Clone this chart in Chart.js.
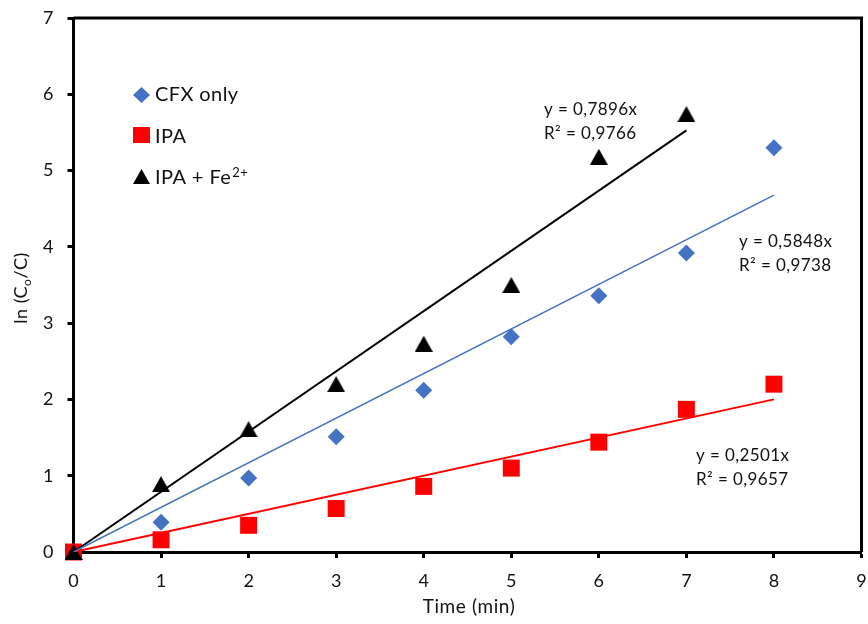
<!DOCTYPE html>
<html>
<head>
<meta charset="utf-8">
<script src="https://cdn.jsdelivr.net/npm/chart.js@4/dist/chart.umd.min.js"></script>
<style>
  html, body { margin: 0; padding: 0; background: #fff; }
  #wrap { width: 868px; height: 624px; }
</style>
</head>
<body>
<div id="wrap"><canvas id="chart" width="868" height="624"></canvas></div>
<script>
// values
const times = [0, 1, 2, 3, 4, 5, 6, 7, 8];
const cfxOnly = [0, 0.39, 0.97, 1.51, 2.12, 2.82, 3.36, 3.92, 5.30];
const ipa = [0, 0.16, 0.35, 0.57, 0.86, 1.10, 1.44, 1.87, 2.20];
const ipaFe = [0, 0.89, 1.61, 2.20, 2.73, 3.50, 5.18, 5.74];

// trendlines y = k*x (through origin), as shown on the chart
const slopes = [0.5848, 0.2501, 0.7896];
const trendEnds = [8, 8, 7];
const equations = [
    ['y = 0,5848x', 'R² = 0,9738'],
    ['y = 0,2501x', 'R² = 0,9657'],
    ['y = 0,7896x', 'R² = 0,9766']
];

const xTicks = [0, 1, 2, 3, 4, 5, 6, 7, 8, 9];
const yTicks = [0, 1, 2, 3, 4, 5, 6, 7];

const blue = '#4472C4';
const red = '#FF0000';
const black = '#000000';
const FONT = 'Lato, "Open Sans", sans-serif';

function pts(ys) {
    return ys.map((y, i) => ({ x: times[i], y: y }));
}
function trend(k, end) {
    return [{ x: 0, y: 0 }, { x: end, y: k * end }];
}

function diamond(ctx, x, y, rx, ry) {
    ctx.beginPath();
    ctx.moveTo(x, y - ry); ctx.lineTo(x + rx, y); ctx.lineTo(x, y + ry); ctx.lineTo(x - rx, y);
    ctx.closePath(); ctx.fill();
}
function triangle(ctx, x, y, w, h) {
    ctx.beginPath();
    ctx.moveTo(x, y - h / 2); ctx.lineTo(x + w / 2, y + h / 2); ctx.lineTo(x - w / 2, y + h / 2);
    ctx.closePath(); ctx.fill();
}

// triangle marker centred on its box (like Excel), not on its circumcentre
const triMarker = document.createElement('canvas');
triMarker.width = 18; triMarker.height = 16;
(function () {
    const c = triMarker.getContext('2d');
    c.fillStyle = black;
    triangle(c, 9, 8, 18, 16);
})();

const extras = {
    id: 'extras',
    afterDraw(chart) {
        const ctx = chart.ctx;
        const a = chart.chartArea;
        ctx.save();
        // frame top / right
        ctx.strokeStyle = '#000';
        ctx.lineWidth = 3;
        ctx.beginPath();
        ctx.moveTo(a.left, a.top); ctx.lineTo(a.right, a.top); ctx.lineTo(a.right, a.bottom);
        ctx.stroke();

        // legend
        ctx.textBaseline = 'alphabetic';
        ctx.textAlign = 'left';
        ctx.fillStyle = blue; diamond(ctx, 141.5, 95, 8.5, 8);
        ctx.fillStyle = red; ctx.fillRect(133, 127, 17, 16);
        ctx.fillStyle = black; triangle(ctx, 141.5, 176.5, 17, 15);
        ctx.fillStyle = '#111';
        ctx.font = '20px ' + FONT;
        ctx.letterSpacing = '0.4px';
        ctx.fillText('CFX only', 155, 101);
        ctx.fillText('IPA', 155, 143);
        ctx.fillText('IPA + Fe', 155, 184);
        const w = ctx.measureText('IPA + Fe').width;
        ctx.font = '13px ' + FONT;
        ctx.fillText('2+', 155 + w + 1, 177);

        // equations
        ctx.font = '17px ' + FONT;
        ctx.letterSpacing = '0.4px';
        const eqPos = [[739, 247], [696, 461], [544, 115]];
        equations.forEach((e, i) => {
            ctx.fillText(e[0], eqPos[i][0], eqPos[i][1]);
            ctx.fillText(e[1], eqPos[i][0], eqPos[i][1] + 24);
        });

        // x title
        ctx.font = '19px ' + FONT;
        ctx.letterSpacing = '0.6px';
        ctx.textAlign = 'center';
        ctx.fillText('Time (min)', 469, 613);

        // y title with subscript
        ctx.translate(27, 288);
        ctx.rotate(-Math.PI / 2);
        ctx.textAlign = 'left';
        ctx.letterSpacing = '0.5px';
        const p1 = 'ln (C', p3 = '/C)';
        ctx.font = '18px ' + FONT;
        const w1 = ctx.measureText(p1).width;
        ctx.font = '12px ' + FONT;
        const w2 = ctx.measureText('o').width;
        ctx.font = '18px ' + FONT;
        const w3 = ctx.measureText(p3).width;
        const sx = -(w1 + w2 + w3) / 2;
        ctx.fillText(p1, sx, 0);
        ctx.font = '12px ' + FONT;
        ctx.fillText('o', sx + w1, 4);
        ctx.font = '18px ' + FONT;
        ctx.fillText(p3, sx + w1 + w2, 0);
        ctx.restore();
    }
};

new Chart(document.getElementById('chart'), {
    type: 'scatter',
    data: {
        datasets: [
            { label: 'CFX only', data: pts(cfxOnly), backgroundColor: blue, borderColor: blue,
              pointStyle: 'rectRot', pointRadius: 8.5, pointBorderWidth: 0, clip: false, order: 3 },
            { label: 'IPA', data: pts(ipa), backgroundColor: red, borderColor: red,
              pointStyle: 'rect', pointRadius: 12, pointBorderWidth: 0, clip: false, order: 2 },
            { label: 'IPA + Fe2+', data: pts(ipaFe), backgroundColor: black, borderColor: black,
              pointStyle: triMarker, pointRadius: 10, pointBorderWidth: 0, clip: false, order: 1 },
            { type: 'line', data: trend(slopes[0], trendEnds[0]), borderColor: blue, borderWidth: 1.5,
              pointRadius: 0, fill: false, order: 0 },
            { type: 'line', data: trend(slopes[1], trendEnds[1]), borderColor: red, borderWidth: 2,
              pointRadius: 0, fill: false, order: 0 },
            { type: 'line', data: trend(slopes[2], trendEnds[2]), borderColor: black, borderWidth: 2,
              pointRadius: 0, fill: false, order: 0 }
        ]
    },
    options: {
        responsive: false,
        animation: false,
        layout: { autoPadding: false, padding: { top: 18, right: 6.5, left: 0, bottom: 0 } },
        plugins: { legend: { display: false }, tooltip: { enabled: false } },
        scales: {
            x: {
                type: 'linear', min: 0, max: 9,
                afterFit: s => { s.height = 72; s.paddingLeft = 0; s.paddingRight = 0; },
                afterBuildTicks: s => { s.ticks = xTicks.map(v => ({ value: v })); },
                grid: { drawOnChartArea: false, drawTicks: true, tickLength: 6, tickColor: '#000', tickWidth: 3 },
                border: { color: '#000', width: 3 },
                ticks: { color: '#111', font: { family: FONT, size: 18 }, padding: 12, maxRotation: 0 }
            },
            y: {
                type: 'linear', min: 0, max: 7,
                afterFit: s => { s.width = 73.5; s.paddingTop = 0; s.paddingBottom = 0; },
                afterBuildTicks: s => { s.ticks = yTicks.map(v => ({ value: v })); },
                grid: { drawOnChartArea: false, drawTicks: true, tickLength: 6, tickColor: '#000', tickWidth: 3 },
                border: { color: '#000', width: 3 },
                ticks: { color: '#111', font: { family: FONT, size: 18 }, padding: 14 }
            }
        }
    },
    plugins: [extras]
});
</script>
</body>
</html>
